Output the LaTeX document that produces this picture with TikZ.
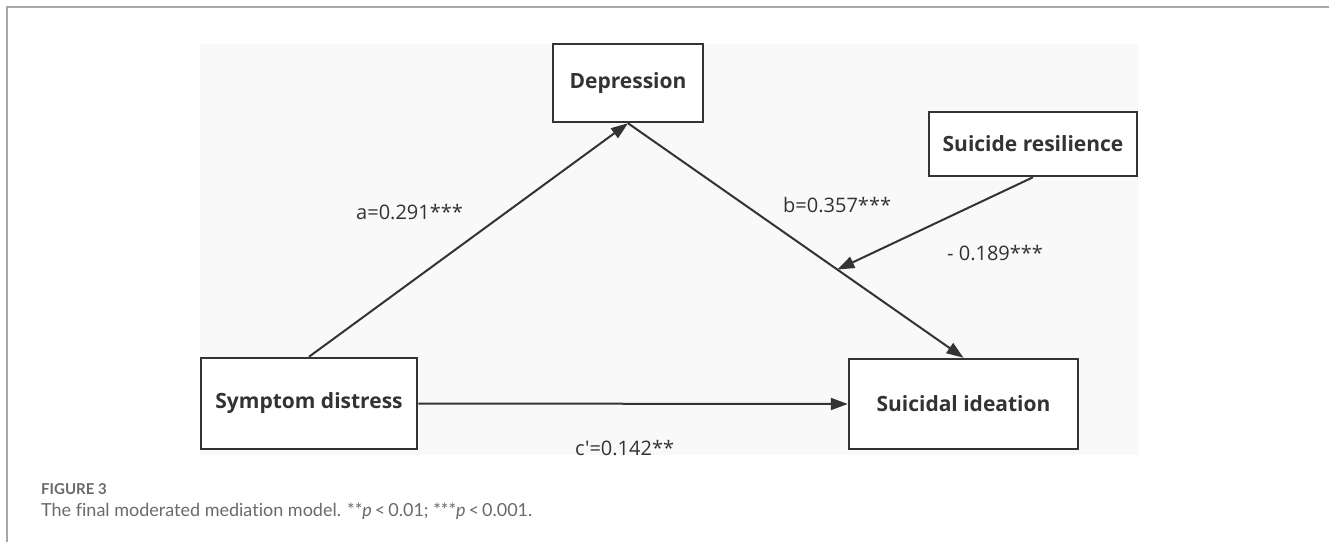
\documentclass[tikz,border=0pt]{standalone}
\usepackage{fontspec}
\setmainfont{Open Sans}
\newfontfamily\labfont{Open Sans}
\newfontfamily\capfont{Lato}[Ligatures=NoCommon]
\usetikzlibrary{arrows.meta,calc}
\definecolor{ink}{HTML}{333333}
\definecolor{bgfill}{HTML}{F9F9F9}
\definecolor{framec}{HTML}{A8A8A8}
\definecolor{capc}{HTML}{6A6A6A}
\begin{document}
\begin{tikzpicture}[x=1pt,y=-1pt,
  varbox/.style={draw=ink,line width=2.5pt,fill=white,rectangle,inner sep=0pt,
    text=ink,font=\fontsize{21}{25}\selectfont\bfseries},
  path/.style={draw=ink,line width=2pt,-{Triangle[length=17pt,width=12pt]}},
  coef/.style={anchor=base west,text=ink,inner sep=0pt,font=\labfont\fontsize{20}{24}\selectfont}]
\useasboundingbox (0,0) rectangle (1329,542);
\fill[white] (0,0) rectangle (1329,542);
\draw[framec,line width=1.5pt] (7,542) -- (7,7) -- (1329,7);
\fill[bgfill] (200,44) rectangle (1138,455);
\node[varbox,minimum width=216pt,minimum height=91pt] (sd) at (309,403.5) {Symptom distress};
\node[varbox,minimum width=229pt,minimum height=90pt] (si) at (963.5,404) {Suicidal ideation};
\node[varbox,minimum width=150pt,minimum height=78pt] (dep) at (628,83) {Depression};
\node[varbox,minimum width=208pt,minimum height=64pt] (sr) at (1033,144) {Suicide resilience};
\coordinate (m) at ($(dep.south)!0.624!(si.north)$);
\draw[path] (sd.north) -- (dep.south);
\draw[path] (dep.south) -- (si.north);
\draw[path] (sd.east) -- (si.west);
\draw[path] (sr.south) -- (m);
\node[coef] (la) at (356,219) {a=0.291***};
\node[coef] (lb) at (783,212) {b=0.357***};
\node[coef] (lm) at (947,260) {- 0.189***};
\begin{scope}
\clip (200,44) rectangle (1138,455);
\node[coef] (lc) at (575,455.5) {c'=0.142**};
\end{scope}
\node[anchor=base west,inner sep=0pt,text=capc,font=\capfont\fontsize{15}{17}\selectfont\bfseries] (fig) at (41,494) {FIGURE 3};
\node[anchor=base west,inner sep=0pt,text=capc,font=\capfont\fontsize{18}{21}\selectfont] (cap) at (41,516) {The final moderated mediation model. **\textit{p}\,<\,0.01; ***\textit{p}\,<\,0.001.};
\end{tikzpicture}
\end{document}
